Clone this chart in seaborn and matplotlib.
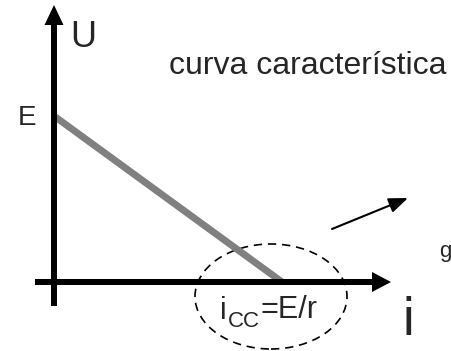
import pandas as pd
import seaborn as sns
import matplotlib.pyplot as plt
from matplotlib.patches import Ellipse

# characteristic curve of a real generator: U = E - r*i
E = 1.0
i_cc = 1.0
i_vals = [0.0, i_cc]
u_vals = [E, 0.0]

df = pd.DataFrame({'i': i_vals, 'U': u_vals})

sns.set_style('white')
plt.rcParams['font.family'] = ['Liberation Sans', 'DejaVu Sans']

# pixel layout helpers (origin of the axes at pixel 54, 282)
W, H = 451, 351
ox, oy = 54, 282
kx, ky = 228.0, 166.0


def px(x):
    return (x - ox) / kx


def py(y):
    return (oy - y) / ky


fig = plt.figure(figsize=(W / 100, H / 100), dpi=100)
ax = fig.add_axes([0, 0, 1, 1])
ax.set_xlim(px(0), px(W))
ax.set_ylim(py(H), py(0))
ax.axis('off')

# the curve
sns.lineplot(data=df, x='i', y='U', ax=ax, color='#808080', linewidth=5,
             solid_capstyle='butt', zorder=2)

# axes as thick arrows
ax.arrow(0, py(306), 0, py(5) - py(306), width=6 / kx, head_width=19 / kx,
         head_length=20 / ky, length_includes_head=True, color='black', lw=0, zorder=3)
ax.arrow(px(35), 0, px(391) - px(35), 0, width=6 / ky, head_width=20 / ky,
         head_length=19 / kx, length_includes_head=True, color='black', lw=0, zorder=3)

# dashed ellipse around i_cc
ell = Ellipse((px(271), py(296.5)), 152 / kx, 105 / ky, fill=False, edgecolor='black',
              linewidth=1.2, linestyle=(0, (5, 3.5)), zorder=1)
ax.add_patch(ell)

# thin arrow
ax.annotate('', xy=(px(408), py(198)), xytext=(px(332), py(229)),
            arrowprops=dict(arrowstyle='-|>,head_length=1.15,head_width=0.45',
                            mutation_scale=10, color='black', lw=1.5, shrinkA=0, shrinkB=0))

# labels
ax.text(px(70), py(47), 'U', fontsize=26, ha='left', va='baseline')
ax.text(px(18), py(125), 'E', fontsize=20, ha='left', va='baseline')
ax.text(px(169), py(74), 'curva característica', fontsize=23, ha='left', va='baseline')
ax.text(px(220), py(319), 'i', fontsize=22, ha='left', va='baseline')
ax.text(px(228), py(327), 'CC', fontsize=16, ha='left', va='baseline')
ax.text(px(261), py(318), '=E/r', fontsize=22, ha='left', va='baseline')
ax.text(px(402), py(335), 'i', fontsize=38, ha='left', va='baseline')
ax.text(px(439), py(257), 'g', fontsize=16, ha='left', va='baseline')

fig.savefig('out.png', dpi=100)
